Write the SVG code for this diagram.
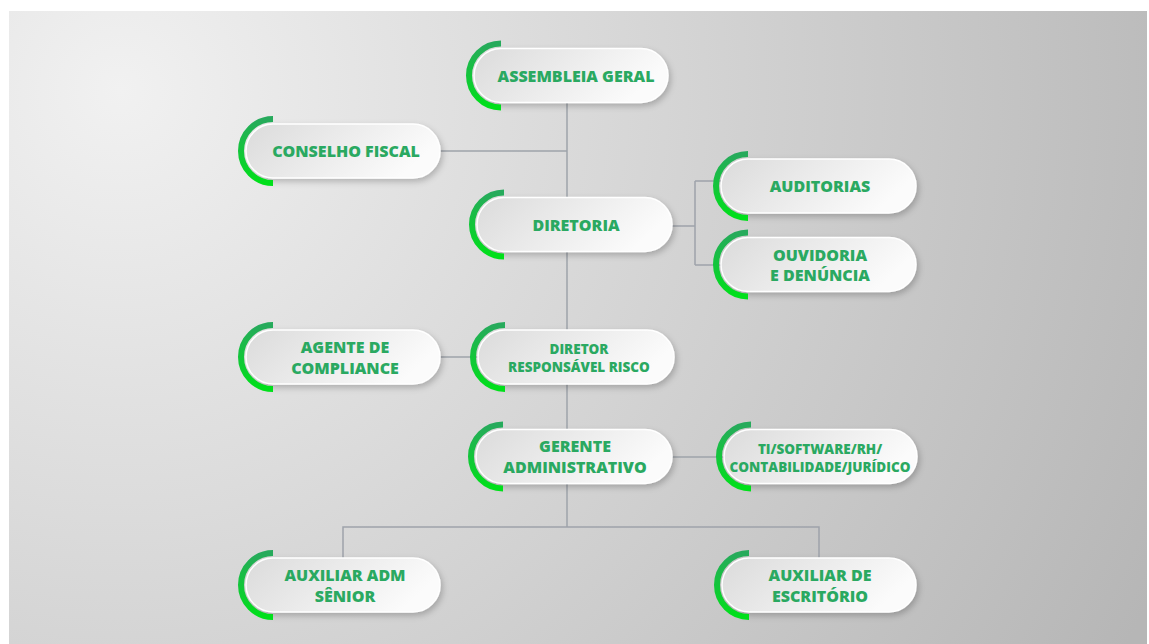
<svg xmlns="http://www.w3.org/2000/svg" width="1149" height="644" viewBox="0 0 1149 644">
<defs>
<radialGradient id="bg" gradientUnits="userSpaceOnUse" cx="120" cy="90" r="1150">
<stop offset="0" stop-color="#f1f1f1"/>
<stop offset="1" stop-color="#b6b6b6"/>
</radialGradient>
<linearGradient id="pill" x1="0" y1="0" x2="1" y2="0.3">
<stop offset="0" stop-color="#dbdbdb"/>
<stop offset="1" stop-color="#fbfbfb"/>
</linearGradient>
<linearGradient id="arc" x1="0" y1="0" x2="0" y2="1">
<stop offset="0" stop-color="#27aa5c"/>
<stop offset="1" stop-color="#00e01a"/>
</linearGradient>
<filter id="sh" x="-20%" y="-40%" width="140%" height="190%">
<feDropShadow dx="2" dy="3" stdDeviation="3" flood-color="#000" flood-opacity="0.22"/>
</filter>
</defs>
<style>
.p{fill:url(#pill);stroke:#ffffff;stroke-width:1.5;filter:url(#sh)}
.a{fill:none;stroke:url(#arc);stroke-width:6}
.t{font-family:"Open Sans","Liberation Sans",sans-serif;font-weight:800;font-size:16px;fill:#2aa961;text-anchor:middle}
.s{font-size:13.5px}
.c{fill:none;stroke:#9ea3aa;stroke-width:1.5}
</style>
<rect x="9" y="11" width="1138" height="633" fill="url(#bg)"/>
<g id="connectors">
<path class="c" d="M567 102V527"/>
<path class="c" d="M440 151H567"/>
<path class="c" d="M672 226H695M695 181V265M695 181H722M695 265H722"/>
<path class="c" d="M440 357H478"/>
<path class="c" d="M672 457H724"/>
<path class="c" d="M343 558V527H819V558"/>
</g>
<g id="assembleia" transform="translate(474,75.5)">
<rect class="p" x="0" y="-27" width="194" height="54" rx="27"/>
<path class="a" d="M27 -32A32 32 0 0 0 27 32"/>
<text class="t" x="102" y="6">ASSEMBLEIA GERAL</text>
</g>
<g id="conselho" transform="translate(246,151)">
<rect class="p" x="0" y="-27" width="194" height="54" rx="27"/>
<path class="a" d="M27 -32A32 32 0 0 0 27 32"/>
<text class="t" x="100" y="6">CONSELHO FISCAL</text>
</g>
<g id="diretoria" transform="translate(477,224.5)">
<rect class="p" x="0" y="-27" width="195" height="54" rx="27"/>
<path class="a" d="M27 -32A32 32 0 0 0 27 32"/>
<text class="t" x="99" y="6">DIRETORIA</text>
</g>
<g id="auditorias" transform="translate(721,186)">
<rect class="p" x="0" y="-27" width="195" height="54" rx="27"/>
<path class="a" d="M27 -32A32 32 0 0 0 27 32"/>
<text class="t" x="99" y="6">AUDITORIAS</text>
</g>
<g id="ouvidoria" transform="translate(721,264.5)">
<rect class="p" x="0" y="-27" width="195" height="54" rx="27"/>
<path class="a" d="M27 -32A32 32 0 0 0 27 32"/>
<text class="t" x="99" y="-3.5">OUVIDORIA</text>
<text class="t" x="99" y="16.5">E DENÚNCIA</text>
</g>
<g id="agente" transform="translate(246,357)">
<rect class="p" x="0" y="-27" width="194" height="54" rx="27"/>
<path class="a" d="M27 -32A32 32 0 0 0 27 32"/>
<text class="t" x="99" y="-4">AGENTE DE</text>
<text class="t" x="99" y="16.5">COMPLIANCE</text>
</g>
<g id="diretor" transform="translate(478,357)">
<rect class="p" x="0" y="-27" width="196" height="54" rx="27"/>
<path class="a" d="M27 -32A32 32 0 0 0 27 32"/>
<text class="t s" x="101" y="-3">DIRETOR</text>
<text class="t s" x="101" y="14.5">RESPONSÁVEL RISCO</text>
</g>
<g id="gerente" transform="translate(476,456.5)">
<rect class="p" x="0" y="-27" width="196" height="54" rx="27"/>
<path class="a" d="M27 -32A32 32 0 0 0 27 32"/>
<text class="t" x="99" y="-4.5">GERENTE</text>
<text class="t" x="99" y="16">ADMINISTRATIVO</text>
</g>
<g id="ti" transform="translate(724,456.5)">
<rect class="p" x="0" y="-27" width="193" height="54" rx="27"/>
<path class="a" d="M27 -32A32 32 0 0 0 27 32"/>
<text class="t s" x="96" y="-3">TI/SOFTWARE/RH/</text>
<text class="t s" x="96" y="15.5">CONTABILIDADE/JURÍDICO</text>
</g>
<g id="auxiliar-adm" transform="translate(246,585)">
<rect class="p" x="0" y="-27" width="194" height="54" rx="27"/>
<path class="a" d="M27 -32A32 32 0 0 0 27 32"/>
<text class="t" x="99" y="-4">AUXILIAR ADM</text>
<text class="t" x="99" y="16.5">SÊNIOR</text>
</g>
<g id="auxiliar-escritorio" transform="translate(722,585)">
<rect class="p" x="0" y="-27" width="194" height="54" rx="27"/>
<path class="a" d="M27 -32A32 32 0 0 0 27 32"/>
<text class="t" x="98" y="-4">AUXILIAR DE</text>
<text class="t" x="98" y="16.5">ESCRITÓRIO</text>
</g>
</svg>
